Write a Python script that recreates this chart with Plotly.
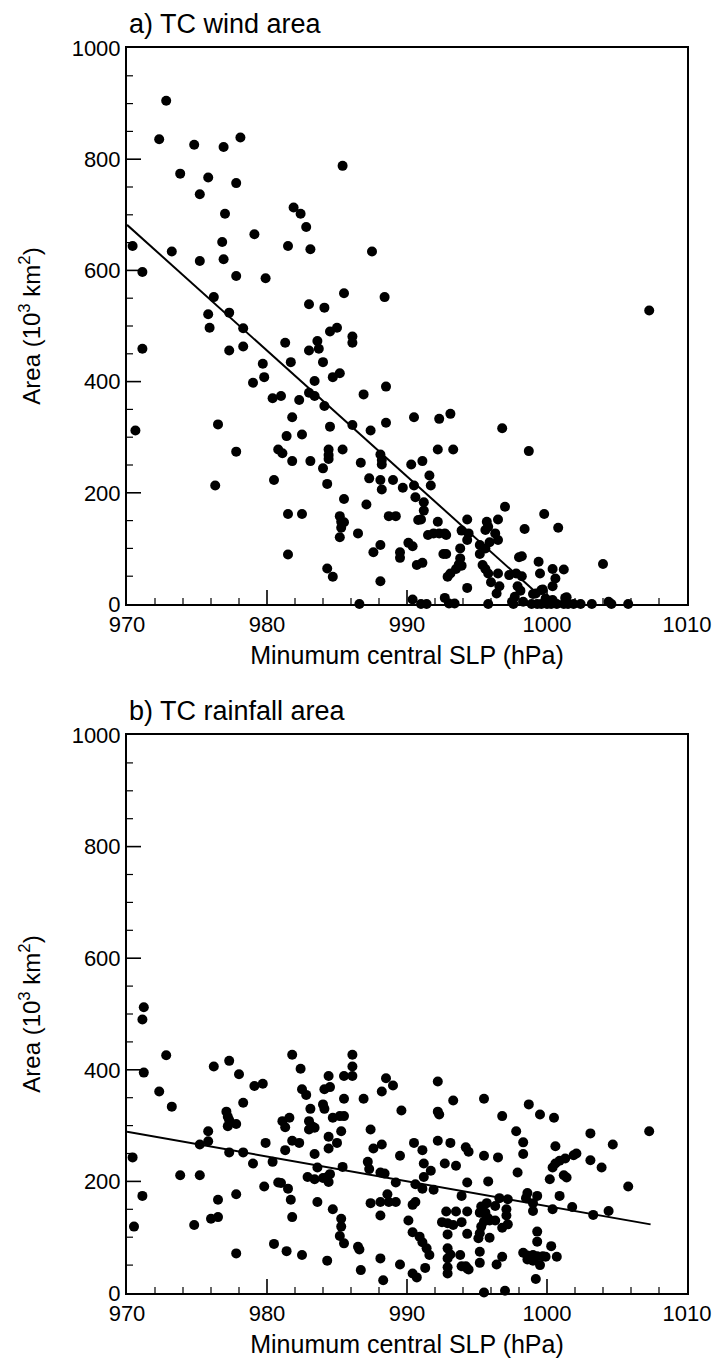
import plotly.graph_objects as go

# ---- Panel a: TC wind area ----
wind_slp = [972.8, 972.3, 974.8, 976.9, 978.1, 985.4, 973.8, 975.8, 977.8, 975.2,
            977.0, 981.9, 982.4, 982.8, 979.1, 970.4, 973.2, 976.8, 981.5, 983.1,
            987.5, 975.2, 976.9, 971.1, 977.8, 979.9, 976.2, 985.5, 988.4, 983.0,
            984.1, 975.8, 977.3, 975.9, 978.3, 971.1, 977.3, 978.3, 981.3, 983.0,
            983.6, 983.7, 984.5, 985.0, 986.1, 986.1, 979.7, 981.7, 984.0, 979.0,
            979.8, 983.4, 984.7, 985.2, 988.5, 980.4, 981.0, 982.3, 983.0, 983.4,
            984.1, 986.9, 970.6, 976.5, 981.8, 984.5, 986.1, 987.4, 988.5, 990.5,
            981.4, 982.5, 977.8, 980.8, 981.1, 984.4, 984.4, 984.4, 985.4, 981.8,
            983.1, 984.0, 986.7, 988.1, 988.2, 988.2, 990.3, 976.3, 980.5, 984.3,
            987.3, 988.1, 988.2, 989.0, 989.7, 990.5, 990.6, 985.5, 987.1, 981.5,
            982.5, 985.2, 985.3, 985.5, 985.3, 985.2, 988.7, 989.2, 990.8, 986.5,
            988.1, 987.6, 989.5, 989.5, 990.1, 990.4, 990.7, 981.5, 984.3, 984.7,
            988.1, 986.6, 990.4, 1007.3, 992.3, 993.1, 996.8, 992.2, 993.3, 998.7,
            991.1, 991.6, 991.7, 991.2, 991.2, 991.0, 992.2, 994.3, 997.0, 999.8,
            1000.8, 1004.0, 998.4, 995.7, 995.8, 995.6, 996.5, 996.3, 996.5, 995.9,
            993.9, 994.4, 991.5, 991.9, 992.3, 992.7, 992.8, 994.3, 993.8, 995.2,
            995.6, 995.2, 992.6, 992.8, 993.8, 993.9, 993.7, 993.5, 993.1, 992.9,
            991.1, 995.4, 995.6, 995.8, 996.5, 996.0, 996.6, 996.4, 994.3, 997.3,
            997.8, 998.2, 997.9, 998.1, 997.7, 997.5, 998.3, 998.0, 998.2, 999.4,
            999.5, 1000.4, 1001.2, 1000.6, 1000.4, 999.2, 999.6, 999.9, 1000.4, 992.7,
            993.0, 993.4, 991.0, 991.4, 995.8, 998.9, 999.3, 999.6, 1000.0, 1000.3,
            1000.7, 1001.2, 1001.5, 1001.9, 1002.4, 1001.3, 1003.2, 1004.4, 1004.6, 1005.8,
            999.7, 999.0, 1001.4, 997.6]
wind_area = [905, 836, 826, 822, 839, 788, 774, 767, 757, 737,
             702, 713, 702, 678, 665, 644, 634, 651, 644, 638,
             634, 617, 620, 597, 590, 586, 552, 559, 552, 539,
             533, 521, 524, 497, 496, 459, 456, 463, 470, 456,
             473, 459, 490, 497, 481, 470, 432, 435, 435, 398,
             408, 401, 408, 415, 391, 370, 374, 367, 380, 374,
             356, 377, 312, 323, 336, 319, 322, 312, 326, 336,
             302, 305, 274, 278, 271, 278, 268, 261, 278, 257,
             257, 244, 254, 269, 259, 251, 251, 213, 223, 216,
             226, 223, 206, 223, 209, 213, 192, 189, 179, 162,
             162, 158, 148, 147, 137, 120, 158, 158, 151, 127,
             106, 93, 93, 83, 110, 104, 70, 89, 64, 49,
             41, 0, 8, 528, 333, 342, 316, 278, 278, 275,
             257, 231, 213, 183, 168, 152, 148, 152, 175, 162,
             137, 72, 135, 148, 139, 133, 152, 127, 115, 111,
             132, 127, 124, 127, 127, 127, 124, 115, 100, 106,
             100, 90, 90, 90, 82, 69, 71, 63, 55, 49,
             74, 70, 63, 55, 55, 39, 32, 19, 29, 52,
             55, 50, 32, 24, 13, 4, 4, 84, 86, 76,
             55, 63, 62, 46, 32, 19, 25, 10, 7, 11,
             1, 1, 0, 0, 0, 0, 0, 0, 0, 0,
             0, 0, 0, 0, 0, 11, 0, 4, 0, 0,
             26, 18, 12, 0]
wind_fit_slp = [970.0, 999.3]
wind_fit_area = [682, 19]

# ---- Panel b: TC rainfall area ----
rain_slp = [971.2, 971.1, 971.2, 972.8, 972.3, 973.2, 970.4, 971.1, 970.5, 973.8,
            975.2, 974.8, 976.2, 977.3, 978.0, 979.1, 979.7, 978.3, 977.1, 977.2,
            977.3, 977.2, 977.8, 975.8, 975.2, 975.8, 977.3, 978.3, 979.0, 979.9,
            980.4, 979.8, 977.8, 976.5, 976.0, 976.5, 977.8, 980.5, 981.4, 982.5,
            981.8, 982.4, 982.5, 982.8, 981.1, 981.3, 981.6, 981.8, 982.3, 981.3,
            980.8, 981.0, 981.5, 981.7, 981.8, 983.1, 983.0, 983.2, 983.0, 983.4,
            984.4, 984.5, 984.1, 984.0, 984.1, 985.5, 986.1, 986.1, 986.1, 985.5,
            984.7, 985.2, 985.5, 985.3, 984.4, 984.4, 985.0, 983.4, 983.6, 982.9,
            983.4, 984.0, 984.4, 984.3, 984.5, 985.4, 983.6, 984.7, 985.3, 985.3,
            985.2, 985.5, 984.3, 986.5, 986.6, 986.7, 986.9, 987.4, 987.6, 987.2,
            987.3, 987.4, 988.1, 988.4, 988.2, 988.2, 988.5, 989.0, 989.6, 989.5,
            989.2, 988.1, 988.6, 988.7, 989.2, 988.1, 988.1, 988.3, 989.5, 990.1,
            990.4, 990.4, 990.6, 990.5, 990.6, 990.4, 990.7, 992.2, 993.3, 995.5,
            992.2, 992.3, 998.7, 996.8, 999.5, 1000.5, 997.8, 998.3, 1003.1, 1007.3,
            1004.7, 1000.6, 991.1, 992.2, 993.1, 994.2, 994.4, 995.5, 996.5, 998.3,
            1003.1, 1003.9, 1005.8, 1000.4, 1000.6, 1000.9, 1001.3, 1001.9, 1002.1, 991.2,
            991.7, 992.7, 993.5, 991.2, 991.1, 991.9, 994.3, 995.8, 997.9, 1000.2,
            1001.2, 1001.4, 993.9, 1000.9, 998.6, 998.5, 999.3, 999.0, 999.0, 996.6,
            997.2, 996.3, 997.1, 997.1, 996.8, 997.2, 1000.4, 1001.8, 1003.3, 1004.4,
            995.7, 995.3, 995.2, 995.6, 995.8, 995.3, 995.5, 995.9, 996.3, 995.9,
            995.1, 995.2, 995.2, 995.2, 994.2, 994.4, 994.3, 994.3, 993.5, 992.8,
            992.5, 992.9, 993.3, 993.9, 992.9, 992.9, 993.1, 992.9, 992.9, 992.9,
            993.8, 993.9, 994.3, 990.9, 991.1, 991.4, 991.6, 991.3, 999.3, 999.3,
            1000.3, 998.3, 998.6, 999.0, 999.3, 999.7, 999.9, 1000.7, 998.6, 999.0,
            999.5, 999.2, 996.4, 996.8, 995.5, 997.0]
rain_area = [512, 490, 395, 426, 361, 334, 243, 174, 119, 211,
             211, 122, 406, 416, 392, 371, 375, 341, 325, 316,
             310, 299, 303, 290, 266, 272, 252, 252, 232, 269,
             235, 191, 177, 167, 133, 136, 71, 88, 75, 68,
             427, 402, 365, 355, 308, 297, 314, 273, 269, 256,
             198, 197, 187, 167, 136, 330, 308, 299, 293, 296,
             389, 369, 365, 338, 330, 389, 389, 406, 427, 348,
             314, 317, 317, 290, 280, 259, 269, 249, 225, 208,
             204, 206, 199, 208, 213, 226, 163, 150, 133, 119,
             102, 89, 58, 83, 78, 41, 348, 293, 259, 235,
             222, 161, 216, 214, 266, 361, 385, 372, 327, 246,
             198, 163, 177, 163, 163, 139, 62, 23, 51, 130,
             109, 158, 163, 269, 195, 35, 28, 379, 345, 348,
             325, 320, 338, 317, 320, 314, 290, 270, 286, 290,
             266, 263, 256, 273, 269, 261, 253, 246, 243, 249,
             238, 225, 191, 225, 232, 237, 241, 247, 250, 232,
             219, 232, 228, 208, 187, 185, 198, 200, 216, 204,
             211, 207, 174, 174, 179, 170, 174, 161, 147, 170,
             168, 156, 150, 139, 117, 123, 150, 154, 140, 147,
             161, 155, 144, 144, 134, 119, 128, 130, 130, 99,
             98, 107, 74, 54, 48, 42, 106, 146, 146, 146,
             127, 125, 122, 127, 105, 80, 69, 62, 46, 35,
             68, 48, 44, 101, 91, 80, 68, 45, 110, 92,
             84, 72, 67, 68, 66, 66, 65, 65, 60, 58,
             50, 25, 51, 65, 1, 4]
rain_fit_slp = [970.0, 1007.4]
rain_fit_area = [289, 123]

x_ticks = [970, 980, 990, 1000, 1010]
y_ticks = [0, 200, 400, 600, 800, 1000]
x_minor_step = 2
y_minor_step = 50

FONT = "Liberation Sans, Arial, Helvetica, sans-serif"

W, H = 716, 1371
PLOT_L, PLOT_R, PLOT_T, PLOT_B = 127, 687, 48, 1293   # page coordinates of plot area (body margin removed)
A_BOTTOM, B_TOP = 604, 735
plot_h = PLOT_B - PLOT_T

def py(pix):
    return (PLOT_B - pix) / plot_h

MAJOR_LEN, MINOR_LEN = 14, 6   # tick lengths in pixels

def tick_segments(panel_px_height):
    """Inside tick marks built from the tick arrays, converted to data units by the axis scale."""
    x_span = x_ticks[-1] - x_ticks[0]
    y_span = y_ticks[-1] - y_ticks[0]
    x_per_px = x_span / (PLOT_R - PLOT_L)
    y_per_px = y_span / panel_px_height
    xs, ys, widths = [], [], []
    maj_x, maj_y, min_x, min_y = [], [], [], []
    n_x = int(x_span / x_minor_step)
    n_y = int(y_span / y_minor_step)
    for i in range(1, n_x):
        v = x_ticks[0] + i * x_minor_step
        major = v in x_ticks
        ln = (MAJOR_LEN if major else MINOR_LEN) * y_per_px
        tx, ty = (maj_x, maj_y) if major else (min_x, min_y)
        tx += [v, v, None]
        ty += [y_ticks[0], y_ticks[0] + ln, None]
    for i in range(1, n_y):
        v = y_ticks[0] + i * y_minor_step
        major = v in y_ticks
        ln = (MAJOR_LEN if major else MINOR_LEN) * x_per_px
        tx, ty = (maj_x, maj_y) if major else (min_x, min_y)
        tx += [x_ticks[0], x_ticks[0] + ln, None]
        ty += [v, v, None]
    return (maj_x, maj_y), (min_x, min_y)

fig = go.Figure()
marker = dict(color="black", size=10, symbol="circle")

panels = [
    ("x", "y", wind_slp, wind_area, wind_fit_slp, wind_fit_area, A_BOTTOM - PLOT_T),
    ("x2", "y2", rain_slp, rain_area, rain_fit_slp, rain_fit_area, PLOT_B - B_TOP),
]
for xa, ya, xs, ys, fx, fy, ph in panels:
    (mjx, mjy), (mnx, mny) = tick_segments(ph)
    fig.add_trace(go.Scatter(x=mnx, y=mny, mode="lines", line=dict(color="black", width=1.2),
                             xaxis=xa, yaxis=ya, showlegend=False, hoverinfo="skip"))
    fig.add_trace(go.Scatter(x=mjx, y=mjy, mode="lines", line=dict(color="black", width=1.6),
                             xaxis=xa, yaxis=ya, showlegend=False, hoverinfo="skip"))
    fig.add_trace(go.Scatter(x=xs, y=ys, mode="markers", marker=marker,
                             xaxis=xa, yaxis=ya, cliponaxis=False, showlegend=False))
    fig.add_trace(go.Scatter(x=fx, y=fy, mode="lines", line=dict(color="black", width=2),
                             xaxis=xa, yaxis=ya, showlegend=False))

def x_axis(anchor):
    return dict(
        range=[x_ticks[0], x_ticks[-1]], tickmode="array", tickvals=x_ticks,
        ticktext=[str(v) for v in x_ticks], ticks="",
        showline=True, linecolor="black", linewidth=2, mirror=True,
        showgrid=False, zeroline=False,
        tickfont=dict(family=FONT, size=22, color="black"),
        title=dict(text="Minumum central SLP (hPa)", font=dict(family=FONT, size=25, color="black"), standoff=10),
        domain=[0, 1], anchor=anchor,
    )

def y_axis(anchor, domain):
    return dict(
        range=[y_ticks[0], y_ticks[-1]], tickmode="array", tickvals=y_ticks,
        ticktext=[str(v) for v in y_ticks], ticks="",
        showline=True, linecolor="black", linewidth=2, mirror=True,
        showgrid=False, zeroline=False,
        tickfont=dict(family=FONT, size=22, color="black"),
        title=dict(text="Area (10<sup>3</sup> km<sup>2</sup>)", font=dict(family=FONT, size=24, color="black"), standoff=24),
        domain=domain, anchor=anchor,
    )

fig.update_layout(
    width=W, height=H,
    margin=dict(l=PLOT_L, r=W - PLOT_R, t=PLOT_T, b=H - PLOT_B, autoexpand=False),
    paper_bgcolor="white", plot_bgcolor="white",
    xaxis=x_axis("y"),
    yaxis=y_axis("x", [py(A_BOTTOM), 1.0]),
    xaxis2=x_axis("y2"),
    yaxis2=y_axis("x2", [0, py(B_TOP)]),
    annotations=[
        dict(text="a) TC wind area", xref="paper", yref="paper", x=0, y=py(24),
             xanchor="left", yanchor="middle", showarrow=False,
             font=dict(family=FONT, size=27, color="black")),
        dict(text="b) TC rainfall area", xref="paper", yref="paper", x=0, y=py(711),
             xanchor="left", yanchor="middle", showarrow=False,
             font=dict(family=FONT, size=27, color="black")),
    ],
)

fig.write_html("out.html", config={"displayModeBar": False},
               post_script="document.body.style.margin='0';")
